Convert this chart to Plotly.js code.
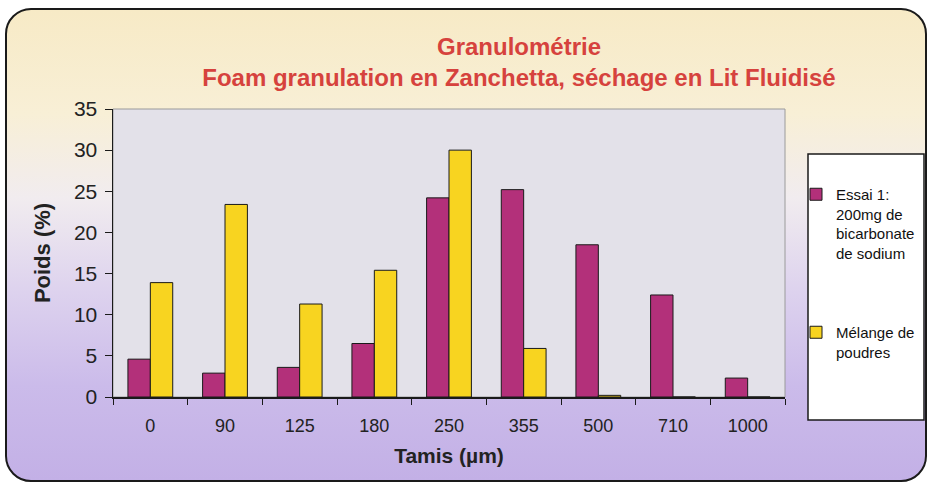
<!DOCTYPE html>
<html>
<head>
<meta charset="utf-8">
<script src="https://cdn.plot.ly/plotly-3.0.1.min.js"></script>
<style>
  html, body { margin:0; padding:0; width:928px; height:484px; overflow:hidden; background:#ffffff; }
  #bg { position:absolute; left:5px; top:8px; width:918px; height:470px;
        border:2px solid #1a1a1a; border-radius:26px;
        background: linear-gradient(to bottom, #f7eac6 0%, #f8efd6 22%, #f1ecef 40%, #ddd2ee 60%, #cbbbea 80%, #c3b0e6 100%); }
  #chart { position:absolute; left:0; top:0; width:928px; height:484px; }
</style>
</head>
<body>
<div id="bg"></div>
<div id="chart"></div>
<script>
const categories = ["0", "90", "125", "180", "250", "355", "500", "710", "1000"];
const essai1 = [4.6, 2.9, 3.6, 6.5, 24.2, 25.2, 18.5, 12.4, 2.3];
const melange = [13.9, 23.4, 11.3, 15.4, 30.0, 5.9, 0.2, 0, 0];
const seriesNames = ["Essai 1:<br>200mg de<br>bicarbonate<br>de sodium", "Mélange de<br>poudres"];
const yTicks = [0, 5, 10, 15, 20, 25, 30, 35];

const font = "Liberation Sans, Arial, sans-serif";

const traces = [
  { type: "bar", x: categories, y: essai1, name: seriesNames[0], legendgroup: "a",
    marker: { color: "#b3307a", line: { color: "#1a1a1a", width: 1 } } },
  { type: "bar", x: categories, y: melange, name: seriesNames[1], legendgroup: "b",
    marker: { color: "#f8d420", line: { color: "#1a1a1a", width: 1 } } }
];

const layout = {
  width: 928, height: 484,
  margin: { l: 113, r: 143, t: 109, b: 87, autoexpand: false },
  paper_bgcolor: "rgba(0,0,0,0)",
  plot_bgcolor: "#e3e1e9",
  barmode: "group",
  bargap: 0.4,
  bargroupgap: 0,
  font: { family: font, color: "#222222" },
  title: {
    text: "Granulométrie<br>Foam granulation en Zanchetta, séchage en Lit Fluidisé",
    font: { family: font, size: 24, color: "#d6423d", weight: "bold" },
    x: 519 / 928, xref: "container", xanchor: "center",
    y: 1 - 55 / 484, yref: "container", yanchor: "top"
  },
  xaxis: {
    type: "category",
    tickson: "boundaries",
    ticks: "outside", ticklen: 6, tickcolor: "#1a1a1a", tickwidth: 1,
    ticklabelstandoff: 12,
    showline: true, linecolor: "#1a1a1a", linewidth: 1.5,
    showgrid: false, zeroline: false,
    tickfont: { family: font, size: 18, color: "#222222" },
    title: { text: "Tamis (µm)", font: { family: font, size: 21, color: "#222222", weight: "bold" }, standoff: 13 }
  },
  yaxis: {
    range: [0, 35],
    tickvals: yTicks,
    ticks: "outside", ticklen: 7, tickcolor: "#1a1a1a", tickwidth: 1,
    ticklabelstandoff: 3,
    showline: true, linecolor: "#1a1a1a", linewidth: 1.5,
    showgrid: false, zeroline: false,
    tickfont: { family: font, size: 21, color: "#222222" },
    title: { text: "Poids (%)", font: { family: font, size: 22, color: "#222222", weight: "bold" }, standoff: 17 }
  },
  showlegend: true,
  legend: {
    x: (796 - 113) / 672, xanchor: "left",
    y: (397 - 178) / 288, yanchor: "top",
    bgcolor: "rgba(0,0,0,0)",
    borderwidth: 0,
    font: { family: font, size: 15, color: "#111111" },
    traceorder: "grouped",
    tracegroupgap: 57,
    valign: "top",
    itemwidth: 30
  },
  shapes: [
    { type: "rect", xref: "paper", yref: "paper", x0: 0, x1: 1, y0: 0, y1: 1,
      line: { color: "#9a9a9a", width: 1 }, fillcolor: "rgba(0,0,0,0)", layer: "below" },
    { type: "rect", xref: "paper", yref: "paper",
      x0: (808 - 113) / 672, x1: (924 - 113) / 672,
      y0: (397 - 420) / 288, y1: (397 - 154) / 288,
      line: { color: "#1a1a1a", width: 1.5 }, fillcolor: "#ffffff", layer: "below" }
  ]
};

Plotly.newPlot("chart", traces, layout, { displayModeBar: false, staticPlot: true });
</script>
</body>
</html>
